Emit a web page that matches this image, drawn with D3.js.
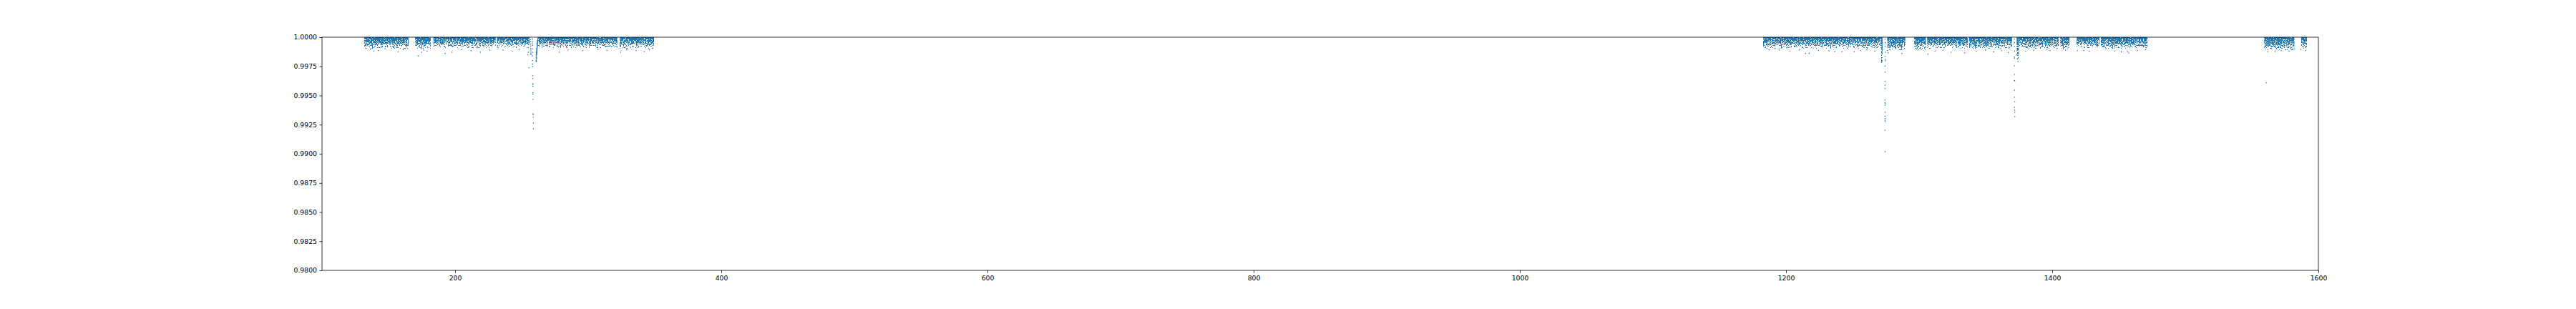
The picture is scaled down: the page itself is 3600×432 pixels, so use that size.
<!DOCTYPE html>
<html><head><meta charset="utf-8">
<script src="https://cdn.jsdelivr.net/npm/d3@7"></script>
<style>body{margin:0;background:#fff}svg{display:block}</style>
</head><body>
<svg id="chart" width="3600" height="432"></svg>
<script>
// ---------------- data ----------------
// observed stretches of the light curve: time range and depth of the point cloud
const segStart = [131.7,170.0,183.7,231.5,262.3,323.7,1182.8,1271.5,1276.0,1296.2,1306.0,1337.5,1373.3,1375.0,1406.0,1418.3,1436.5,1559.3,1587.0];
const segEnd   = [165.0,181.7,230.5,256.0,321.9,349.5,1271.4,1272.5,1289.6,1305.0,1336.6,1369.8,1375.0,1405.0,1413.0,1435.5,1471.6,1582.0,1591.4];
const denseLow = [0.99972,0.99972,0.99976,0.99976,0.99976,0.99974,0.99976,0.99900,0.99970,0.99968,0.99976,0.99974,0.99900,0.99975,0.99972,0.99976,0.99975,0.99966,0.99970];
const coreLow  = [0.99932,0.99930,0.99940,0.99940,0.99940,0.99935,0.99935,0.99800,0.99920,0.99920,0.99935,0.99930,0.99835,0.99930,0.99920,0.99940,0.99930,0.99920,0.99920];
const tailLow  = [0.99900,0.99898,0.99908,0.99908,0.99908,0.99902,0.99902,0.99768,0.99890,0.99888,0.99902,0.99900,0.99810,0.99900,0.99895,0.99908,0.99900,0.99888,0.99900];

// isolated points below the cloud
const strayPoints = [
 [136.4,0.99896],[139.0,0.99881],[142.5,0.99885],[147.5,0.99900],[157.2,0.99876],[161.0,0.99893],
 [172.2,0.99840],[174.9,0.99871],[176.5,0.99890],[179.0,0.99880],[192.6,0.99861],[197.7,0.99871],
 [205.0,0.99893],[212.0,0.99884],[219.0,0.99871],[226.0,0.99889],[236.0,0.99890],[243.0,0.99880],
 [248.0,0.99895],[254.7,0.99850],[255.0,0.99871],[255.5,0.99738],[278.3,0.99871],[285.0,0.99890],
 [296.0,0.99885],[307.4,0.99896],[314.0,0.99888],[324.4,0.99871],[329.0,0.99892],[336.0,0.99885],
 [342.2,0.99877],[346.0,0.99892],
 [1187.2,0.99891],[1195.0,0.99890],[1203.0,0.99880],[1210.0,0.99892],[1214.7,0.99861],[1217.4,0.99861],
 [1224.4,0.99887],[1232.3,0.99881],[1236.7,0.99877],[1242.0,0.99877],[1251.2,0.99877],[1256.0,0.99885],
 [1260.8,0.99891],[1266.7,0.99880],[1276.3,0.99885],[1276.8,0.99865],[1287.0,0.99861],[1298.5,0.99902],
 [1306.6,0.99854],[1312.0,0.99880],[1318.0,0.99888],[1324.0,0.99871],[1334.2,0.99865],[1343.0,0.99880],
 [1350.0,0.99890],[1356.0,0.99875],[1362.0,0.99885],[1367.0,0.99870],[1373.8,0.99815],[1374.3,0.99791],
 [1374.6,0.99822],[1380.0,0.99880],[1386.0,0.99890],[1396.0,0.99896],[1398.4,0.99885],[1410.0,0.99888],
 [1418.9,0.99885],[1423.7,0.99885],[1428.0,0.99880],[1440.5,0.99902],[1447.0,0.99880],[1452.0,0.99875],
 [1456.6,0.99877],[1457.5,0.99865],[1464.0,0.99885],[1470.0,0.99893],
 [1560.8,0.99609],[1562.0,0.99876],[1567.5,0.99877],[1572.0,0.99885],[1578.0,0.99880],[1586.8,0.99895],[1590.3,0.99885]
];
// transit near t = 258
const transit1 = [
 [256.6,0.99980],[256.7,0.99960],[256.6,0.99940],[256.8,0.99925],[256.7,0.99905],[256.9,0.99890],[257.0,0.99872],[256.8,0.99858],[257.1,0.99852],
 [258.1,0.99985],[258.2,0.99960],[258.1,0.99945],[258.1,0.99930],[258.1,0.99900],[258.2,0.99870],[258.2,0.99840],[258.2,0.99799],[258.2,0.99769],
 [258.3,0.99748],[258.3,0.99670],[258.4,0.99646],[258.4,0.99601],[258.4,0.99595],[258.5,0.99579],[258.5,0.99524],[258.5,0.99511],
 [258.6,0.99466],[258.6,0.99344],[258.7,0.99335],[258.7,0.99313],[258.8,0.99264],[258.8,0.99215]
];
// egress just after t = 261
const egress1 = [
 [260.9,0.99790],[260.9,0.99800],[261.0,0.99812],[261.0,0.99825],[261.1,0.99835],[261.1,0.99845],[261.2,0.99852],[261.2,0.99860],
 [261.3,0.99866],[261.3,0.99874],[261.4,0.99880],[261.4,0.99888],[261.5,0.99893],[261.5,0.99900],[261.6,0.99906],[261.6,0.99912],
 [261.7,0.99918],[261.7,0.99925],[261.8,0.99930],[261.8,0.99938],[261.9,0.99945],[261.9,0.99952],[262.0,0.99960],[262.0,0.99968],
 [262.1,0.99975],[262.1,0.99983],[262.2,0.99990],[261.0,0.99870],[261.2,0.99900],[261.5,0.99940],[260.95,0.99850],[261.3,0.99820],
 [261.05,0.99795],[261.15,0.99880],[261.45,0.99860],[261.6,0.99950],[261.8,0.99970]
];
// transit near t = 1274
const transit2 = [
 [1274.4,0.99983],[1274.5,0.99953],[1274.4,0.99922],[1274.5,0.99871],[1274.4,0.99834],[1274.6,0.99810],[1274.5,0.99799],
 [1274.4,0.99752],[1274.5,0.99701],[1274.4,0.99621],[1274.5,0.99589],[1274.4,0.99560],[1274.3,0.99462],[1274.4,0.99437],
 [1274.5,0.99431],[1274.4,0.99417],[1274.5,0.99356],[1274.4,0.99323],[1274.5,0.99302],[1274.4,0.99288],[1274.5,0.99278],
 [1274.4,0.99202],[1274.5,0.99018]
];
// transit near t = 1372
const transit3 = [
 [1371.6,0.99983],[1371.7,0.99953],[1371.6,0.99922],[1371.7,0.99881],[1371.6,0.99830],[1371.7,0.99820],[1371.6,0.99755],
 [1371.7,0.99681],[1371.6,0.99629],[1371.8,0.99626],[1371.7,0.99546],[1371.6,0.99485],[1371.8,0.99448],[1371.7,0.99399],
 [1371.8,0.99374],[1371.9,0.99356],[1371.9,0.99319]
];

const xTicks = [200,400,600,800,1000,1200,1400,1600];
const yTicks = [0.9800,0.9825,0.9850,0.9875,0.9900,0.9925,0.9950,0.9975,1.0000];

// ---------------- layout ----------------
const W = 3600, H = 432;
const L = 450, R = 3240, T = 52, B = 378;
const blue = "#1f77b4";

const svg = d3.select("#chart");
const x = d3.scaleLinear().domain([100,1600]).range([L,R]);
const y = d3.scaleLinear().domain([0.98,1.0]).range([B,T]);

const defs = svg.append("defs");
defs.append("clipPath").attr("id","plotclip").append("rect")
  .attr("x",L).attr("y",T).attr("width",R-L).attr("height",B-T);

// speckle filter: turns a grey level (density) into scattered dots
const f = defs.append("filter").attr("id","speckle")
  .attr("filterUnits","userSpaceOnUse").attr("x",L-5).attr("y",T-5).attr("width",R-L+10).attr("height",70)
  .attr("color-interpolation-filters","sRGB");
f.append("feTurbulence").attr("type","fractalNoise").attr("baseFrequency","0.65").attr("numOctaves",2).attr("seed",11).attr("result","noise");
f.append("feColorMatrix").attr("in","noise").attr("type","matrix")
  .attr("values","0 0 0 0 0  0 0 0 0 0  0 0 0 0 0  1 0 0 0 0").attr("result","nA");
f.append("feColorMatrix").attr("in","SourceGraphic").attr("type","matrix")
  .attr("values","0 0 0 0 0  0 0 0 0 0  0 0 0 0 0  1 0 0 0 0").attr("result","lvl");
f.append("feComposite").attr("in","lvl").attr("in2","nA").attr("operator","arithmetic")
  .attr("k1",0).attr("k2",1).attr("k3",-1).attr("k4",0.5).attr("result","diff");
const ct = f.append("feComponentTransfer").attr("in","diff").attr("result","m");
ct.append("feFuncA").attr("type","discrete").attr("tableValues","0 1");
f.append("feComposite").attr("in","m").attr("in2","SourceAlpha").attr("operator","in").attr("result","m2");
f.append("feFlood").attr("flood-color",blue).attr("result","col");
f.append("feComposite").attr("in","col").attr("in2","m2").attr("operator","in");

const segs = segStart.map((s,i)=>({s, e:segEnd[i], d:denseLow[i], c:coreLow[i], t:tailLow[i]}));
const grey = v => d3.rgb(v*255, v*255, v*255).toString();
segs.forEach((d,i)=>{
  const g = defs.append("linearGradient").attr("id","sg"+i)
    .attr("x1",0).attr("y1",0).attr("x2",0).attr("y2",1);
  const span = 1 - d.t;
  g.append("stop").attr("offset",0).attr("stop-color",grey(0.74));
  g.append("stop").attr("offset",(1-d.d)/span).attr("stop-color",grey(0.60));
  g.append("stop").attr("offset",(1-d.c)/span).attr("stop-color",grey(0.47));
  g.append("stop").attr("offset",1).attr("stop-color",grey(0.33));
});

const plot = svg.append("g").attr("clip-path","url(#plotclip)");
plot.append("g").attr("filter","url(#speckle)")
  .selectAll("rect").data(segs).join("rect")
  .attr("x",d=>x(d.s)).attr("width",d=>Math.max(1,x(d.e)-x(d.s)))
  .attr("y",y(1.0)).attr("height",d=>y(d.t)-y(1.0))
  .attr("fill",(d,i)=>`url(#sg${i})`);

const allPts = strayPoints.concat(transit1, egress1, transit2, transit3);
plot.append("g").selectAll("circle").data(allPts).join("circle")
  .attr("cx",d=>x(d[0])).attr("cy",d=>y(d[1])).attr("r",0.8).attr("fill",blue);

// axes
const fontCss = "font-family:'DejaVu Sans',sans-serif;font-size:9.3px;fill:#000";
const xa = svg.append("g").attr("transform",`translate(0,${B})`)
  .call(d3.axisBottom(x).tickValues(xTicks).tickFormat(d3.format("d")).tickSize(3.5).tickPadding(3.5));
const ya = svg.append("g").attr("transform",`translate(${L},0)`)
  .call(d3.axisLeft(y).tickValues(yTicks).tickFormat(d3.format(".4f")).tickSize(3.5).tickPadding(3.5));
[xa,ya].forEach(a=>{
  a.select(".domain").remove();
  a.selectAll("line").attr("stroke","#000").attr("stroke-width",0.8);
  a.selectAll("text").attr("style",fontCss);
});

svg.append("rect").attr("x",L).attr("y",T).attr("width",R-L).attr("height",B-T)
  .attr("fill","none").attr("stroke","#000").attr("stroke-width",0.8);
</script>
</body></html>
